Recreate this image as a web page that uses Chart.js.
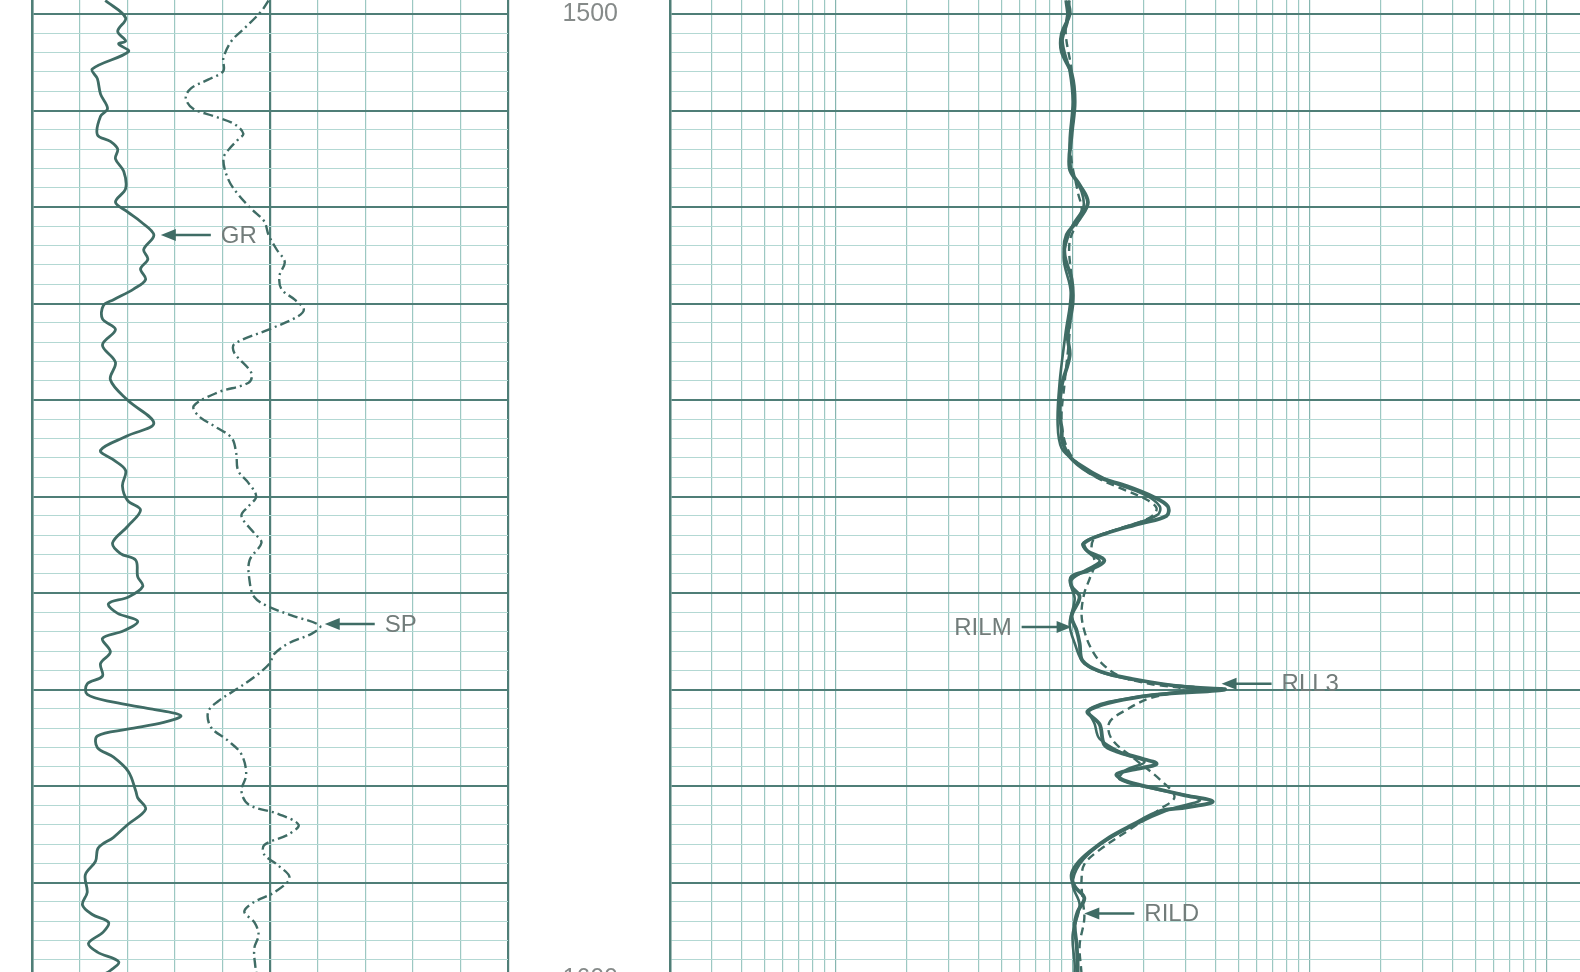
<!DOCTYPE html>
<html>
<head>
<meta charset="utf-8">
<script src="https://cdn.jsdelivr.net/npm/chart.js@4.4.1/dist/chart.umd.min.js"></script>
<style>
  html, body { margin: 0; padding: 0; background: #fff; overflow: hidden; width: 1580px; height: 972px; }
  #log { position: relative; width: 1580px; height: 972px; overflow: hidden; }
  #log canvas { position: absolute; top: 0; }
  #leftTrack { left: 0; }
  #rightTrack { left: 505px; }
</style>
</head>
<body>
<div id="log">
  <canvas id="leftTrack" width="520" height="990"></canvas>
  <canvas id="rightTrack" width="1115" height="990"></canvas>
</div>
<script>
// Well log, 1500 - 1600 m. Left track: GR (API) + SP (mV), right track: resistivities (ohm.m, log)

const depthTop = 1498.55;
const depthBottom = 1600.5;

// GR curve
const grDepth = [1498.6, 1500.4, 1501.8, 1502.8, 1503.1, 1503.9, 1505.7, 1506.7, 1508.3, 1509.8,
  1510.6, 1512.5, 1513.2, 1514.0, 1515.0, 1516.3, 1518.1, 1519.5, 1520.5, 1521.5,
  1522.9, 1524.4, 1525.4, 1526.4, 1527.5, 1528.5, 1529.6, 1530.2, 1531.6, 1532.7,
  1534.3, 1536.1, 1537.9, 1540.0, 1542.4, 1543.7, 1545.2, 1546.2, 1547.3, 1548.9,
  1550.4, 1551.4, 1553.1, 1554.8, 1555.9, 1556.6, 1558.3, 1559.3, 1560.4, 1561.1,
  1562.1, 1562.9, 1563.9, 1564.7, 1566.1, 1567.3, 1568.6, 1569.4, 1570.5, 1571.3,
  1572.0, 1572.7, 1573.4, 1574.1, 1574.8, 1576.0, 1577.0, 1578.5, 1580.5, 1581.2,
  1582.4, 1584.0, 1585.3, 1586.4, 1587.8, 1589.2, 1591.0, 1592.3, 1593.3, 1594.1,
  1595.1, 1596.3, 1597.2, 1598.2, 1599.1, 1599.8, 1601.0];
const grApi = [23.1, 29.5, 27.0, 29.5, 27.3, 30.4, 19.0, 20.6, 21.6, 23.8,
  21.6, 20.6, 24.7, 27.0, 26.3, 28.9, 29.5, 26.3, 30.1, 34.2,
  38.4, 35.2, 36.5, 34.2, 35.8, 32.0, 25.7, 22.5, 22.2, 26.3,
  22.2, 26.3, 24.7, 30.1, 38.4, 30.1, 21.6, 25.7, 29.5, 28.5,
  30.1, 34.2, 30.1, 25.4, 27.9, 32.7, 33.3, 34.9, 30.4, 24.1,
  27.0, 33.3, 28.9, 22.2, 24.7, 21.6, 22.2, 17.4, 17.4, 25.7,
  37.4, 46.9, 41.5, 30.1, 20.6, 20.6, 25.7, 30.4, 32.7, 33.3,
  35.8, 30.1, 25.7, 20.9, 20.0, 16.8, 17.4, 15.9, 19.0, 24.1,
  22.5, 17.8, 20.6, 27.3, 24.7, 21.6, 20.0];

// SP curve
const spDepth = [1498.6, 1499.7, 1501.5, 1502.8, 1504.6, 1505.9, 1506.8, 1507.7, 1508.7, 1509.8,
  1510.6, 1511.4, 1512.4, 1513.0, 1514.0, 1515.0, 1517.1, 1518.7, 1520.2, 1521.5,
  1522.9, 1524.4, 1525.7, 1527.1, 1528.5, 1529.6, 1530.6, 1531.4, 1532.7, 1534.2,
  1535.1, 1537.2, 1538.2, 1539.2, 1540.6, 1541.6, 1542.7, 1543.9, 1545.5, 1547.3,
  1548.6, 1550.0, 1551.0, 1552.0, 1553.8, 1554.8, 1556.6, 1558.7, 1560.4, 1561.4,
  1562.3, 1563.4, 1564.2, 1565.2, 1566.3, 1567.3, 1568.7, 1570.1, 1571.2, 1572.3,
  1573.9, 1575.3, 1576.7, 1578.8, 1580.5, 1581.9, 1582.9, 1584.0, 1585.0, 1586.1,
  1587.1, 1588.1, 1589.5, 1591.0, 1592.0, 1593.0, 1594.1, 1595.4, 1596.8, 1598.6,
  1599.8, 1601.0];
const spMv = [-30.3, -31.8, -35.4, -38.1, -39.8, -39.8, -43.0, -46.6, -47.7, -46.2,
  -41.7, -37.5, -35.6, -36.7, -38.6, -39.8, -38.8, -36.7, -33.9, -31.2,
  -30.3, -28.6, -26.9, -28.0, -27.6, -24.8, -22.9, -24.4, -30.3, -37.5,
  -37.5, -33.9, -34.5, -40.9, -46.0, -45.1, -41.7, -38.1, -37.1, -36.7,
  -34.5, -32.9, -34.5, -36.0, -33.3, -31.8, -34.3, -34.3, -33.3, -30.3,
  -25.5, -19.5, -21.2, -26.1, -29.1, -30.1, -33.3, -37.5, -40.9, -43.0,
  -42.4, -38.8, -36.0, -35.0, -36.0, -34.5, -28.2, -24.0, -26.1, -31.2,
  -31.2, -28.6, -25.9, -29.1, -33.3, -35.4, -33.3, -32.4, -33.3, -33.1,
  -32.7, -32.4];

// RLL3 (shallow laterolog)
const rll3Depth = [1498.6, 1500.0, 1502.1, 1503.9, 1506.2, 1509.1, 1512.5, 1516.0, 1517.7, 1519.5,
  1521.2, 1522.9, 1525.0, 1527.5, 1529.9, 1533.3, 1535.4, 1538.5, 1541.0, 1543.1,
  1544.4, 1546.2, 1547.9, 1548.9, 1550.0, 1551.0, 1552.0, 1552.8, 1553.8, 1554.8,
  1555.6, 1556.6, 1557.6, 1558.3, 1559.3, 1560.4, 1562.4, 1563.9, 1565.2, 1567.0,
  1568.1, 1568.9, 1569.7, 1570.0, 1570.7, 1572.2, 1573.6, 1575.7, 1576.4, 1577.0,
  1577.7, 1578.3, 1578.8, 1579.5, 1580.1, 1580.9, 1581.6, 1582.2, 1582.6, 1584.0,
  1585.3, 1586.8, 1588.1, 1589.2, 1590.4, 1591.6, 1593.0, 1594.4, 1596.5, 1599.3,
  1601.0];
const rll3Ohm = [9.53, 9.71, 8.99, 8.99, 9.90, 10.2, 9.90, 9.71, 10.7, 11.6,
  10.7, 9.43, 9.25, 9.90, 10.0, 9.53, 9.71, 8.99, 8.81, 8.99,
  9.07, 10.0, 12.6, 16.9, 21.8, 25.2, 24.9, 19.2, 13.9, 11.2,
  11.5, 13.6, 11.8, 9.90, 9.90, 10.7, 9.90, 10.4, 10.7, 11.0,
  13.0, 17.9, 29.1, 43.8, 19.7, 11.6, 13.0, 13.6, 15.3, 18.6,
  22.6, 17.9, 15.3, 16.9, 21.1, 29.1, 39.0, 30.3, 23.3, 17.9,
  14.3, 11.8, 10.4, 9.90, 10.2, 11.2, 10.5, 10.2, 10.4, 10.5,
  10.3];

// RILM (medium induction)
const rilmDepth = [1498.6, 1500.7, 1502.8, 1505.9, 1509.1, 1513.2, 1516.3, 1518.4, 1520.0, 1522.1,
  1525.2, 1528.8, 1533.0, 1538.2, 1542.4, 1545.0, 1546.5, 1548.4, 1549.8, 1551.0,
  1551.9, 1553.0, 1554.0, 1554.9, 1555.9, 1556.7, 1557.7, 1558.8, 1560.6, 1563.2,
  1565.2, 1567.3, 1568.6, 1569.4, 1569.9, 1570.8, 1572.0, 1573.6, 1575.1, 1576.7,
  1577.5, 1578.4, 1579.3, 1580.3, 1581.4, 1582.4, 1584.0, 1586.1, 1588.1, 1590.2,
  1592.3, 1595.4, 1598.6, 1601.0];
const rilmOhm = [9.34, 9.53, 9.07, 9.71, 10.0, 9.71, 9.90, 10.9, 11.1, 9.90,
  9.16, 9.81, 9.34, 8.81, 8.64, 8.99, 10.5, 14.3, 20.1, 23.3,
  22.8, 17.4, 13.0, 11.0, 11.8, 13.0, 11.2, 9.81, 10.2, 9.71,
  10.2, 11.2, 15.0, 23.3, 34.4, 18.3, 11.8, 12.4, 13.0, 16.6,
  20.1, 16.6, 15.8, 22.2, 34.4, 25.7, 18.3, 13.0, 10.7, 10.0,
  10.7, 10.0, 10.2, 10.1];

// RILD (deep induction)
const rildDepth = [1498.6, 1501.8, 1505.9, 1510.1, 1514.3, 1518.4, 1520.5, 1523.6, 1527.8, 1533.0,
  1538.2, 1542.4, 1545.5, 1547.6, 1549.1, 1550.2, 1551.2, 1552.2, 1553.3, 1554.3,
  1555.4, 1556.9, 1558.5, 1560.0, 1562.1, 1563.9, 1565.8, 1567.3, 1568.6, 1569.4,
  1570.0, 1570.9, 1572.0, 1573.4, 1575.1, 1577.2, 1579.3, 1581.1, 1582.4, 1584.5,
  1586.6, 1588.1, 1589.7, 1591.6, 1593.7, 1596.5, 1599.6, 1601.0];
const rildOhm = [9.71, 9.34, 9.90, 10.1, 9.81, 10.5, 10.9, 9.71, 9.90, 9.71,
  9.25, 8.99, 9.71, 11.8, 15.8, 20.1, 22.6, 21.1, 15.8, 12.4,
  12.0, 12.4, 11.8, 11.2, 10.9, 11.2, 12.0, 13.3, 15.8, 21.1,
  29.7, 21.1, 17.1, 14.3, 14.6, 18.3, 23.3, 26.9, 23.3, 17.4,
  13.0, 11.2, 10.9, 11.0, 11.2, 10.7, 10.9, 10.8];

// curve name tags with arrows
const leftTags = [
  { text: 'GR', axis: 'x', value: 40.6, depth: 1522.9, side: 'right' },
  { text: 'SP', axis: 'xsp', value: -18.5, depth: 1563.2, side: 'right' }
];
const rightTags = [
  { text: 'RILM', axis: 'x', value: 9.9, depth: 1563.5, side: 'left' },
  { text: 'RLL3', axis: 'x', value: 42.5, depth: 1569.4, side: 'right' },
  { text: 'RILD', axis: 'x', value: 11.2, depth: 1593.2, side: 'right' }
];

const curveColor = '#3f6c65';
const labelColor = '#727c7a';
const majorGrid = '#4f7e77';
const minorGrid = '#b3d8d3';
const vertGrid = '#9cc8c2';

// depth grid every 2 m, heavy every 10 m
const gridDepths = [];
for (let d = 1500; d <= 1600; d += 2) gridDepths.push(d);

// log grid 0.2 .. 2000
const logTicks = [];
for (let dec = 0.1; dec < 2000; dec *= 10) {
  for (let k = 1; k <= 9; k++) {
    const v = +(k * dec).toPrecision(3);
    if (v >= 0.2 && v <= 2000) logTicks.push(v);
  }
}
logTicks.push(2000);

function pts(ys, xs) {
  return ys.map((d, i) => ({ x: xs[i], y: d }));
}

const arrowTags = {
  id: 'arrowTags',
  afterDatasetsDraw(chart, args, opts) {
    const c = chart.ctx;
    c.save();
    (opts.items || []).forEach(t => {
      const x = chart.scales[t.axis].getPixelForValue(t.value);
      const y = chart.scales.y.getPixelForValue(t.depth);
      const dir = t.side === 'left' ? -1 : 1;
      const tail = x + dir * 50;
      c.strokeStyle = curveColor;
      c.fillStyle = curveColor;
      c.lineWidth = 2.5;
      c.beginPath();
      c.moveTo(x + dir * 10, y);
      c.lineTo(tail, y);
      c.stroke();
      c.beginPath();
      c.moveTo(x, y);
      c.lineTo(x + dir * 15, y - 6);
      c.lineTo(x + dir * 15, y + 6);
      c.closePath();
      c.fill();
      c.fillStyle = labelColor;
      c.font = '24px "Liberation Sans", Arial, sans-serif';
      c.textBaseline = 'middle';
      c.textAlign = dir > 0 ? 'left' : 'right';
      c.fillText(t.text, tail + dir * 10, y + 1);
    });
    c.restore();
  }
};

function depthAxis(extra) {
  return Object.assign({
    type: 'linear',
    reverse: true,
    min: depthTop,
    max: depthBottom,
    afterBuildTicks: axis => { axis.ticks = gridDepths.map(v => ({ value: v })); },
    grid: {
      drawTicks: false,
      color: ctx => (ctx.tick && ctx.tick.value % 10 === 0) ? majorGrid : minorGrid,
      lineWidth: ctx => (ctx.tick && ctx.tick.value % 10 === 0) ? 2 : 1
    },
    border: { display: true, color: majorGrid, width: 2.5 }
  }, extra);
}

const lineStyle = { showLine: true, pointRadius: 0, borderColor: curveColor, tension: 0.35, fill: false };

// left track
new Chart(document.getElementById('leftTrack'), {
  type: 'scatter',
  data: {
    datasets: [
      Object.assign({ label: 'GR', data: pts(grDepth, grApi), xAxisID: 'x', borderWidth: 2.8 }, lineStyle),
      Object.assign({ label: 'SP', data: pts(spDepth, spMv), xAxisID: 'xsp', borderWidth: 2.4, borderDash: [10, 4, 2, 4] }, lineStyle)
    ]
  },
  options: {
    responsive: false,
    animation: false,
    devicePixelRatio: 1,
    layout: { padding: { left: 32, right: 12, top: 0, bottom: 6 } },
    plugins: { legend: { display: false }, tooltip: { enabled: false }, arrowTags: { items: leftTags } },
    scales: {
      x: {
        type: 'linear', min: 0, max: 150,
        ticks: { display: false, stepSize: 15, autoSkip: false },
        grid: {
          drawTicks: false,
          color: ctx => (ctx.tick && ctx.tick.value % 75 === 0) ? majorGrid : vertGrid,
          lineWidth: ctx => (ctx.tick && ctx.tick.value % 75 === 0) ? 2.2 : 1.2
        },
        border: { display: false },
        afterFit: s => { s.height = 0; }
      },
      xsp: { type: 'linear', min: -80, max: 20, display: false },
      y: depthAxis({
        ticks: { display: false, autoSkip: false },
        afterFit: s => { s.width = 0; }
      })
    }
  },
  plugins: [arrowTags]
});

// right track
new Chart(document.getElementById('rightTrack'), {
  type: 'scatter',
  data: {
    datasets: [
      Object.assign({ label: 'RILD', data: pts(rildDepth, rildOhm), borderWidth: 2.4, borderDash: [8, 5] }, lineStyle),
      Object.assign({ label: 'RILM', data: pts(rilmDepth, rilmOhm), borderWidth: 2.6 }, lineStyle),
      Object.assign({ label: 'RLL3', data: pts(rll3Depth, rll3Ohm), borderWidth: 3.8 }, lineStyle)
    ]
  },
  options: {
    responsive: false,
    animation: false,
    devicePixelRatio: 1,
    layout: { padding: { left: 0, right: 2, top: 0, bottom: 6 } },
    plugins: { legend: { display: false }, tooltip: { enabled: false }, arrowTags: { items: rightTags } },
    scales: {
      x: {
        type: 'logarithmic', min: 0.2, max: 2000,
        afterBuildTicks: axis => { axis.ticks = logTicks.map(v => ({ value: v })); },
        ticks: { display: false, autoSkip: false },
        grid: {
          drawTicks: false,
          color: ctx => {
            const v = ctx.tick && ctx.tick.value;
            return v && Math.abs(Math.log10(v) - Math.round(Math.log10(v))) < 1e-6 ? '#86b6b0' : vertGrid;
          },
          lineWidth: 1.2
        },
        border: { display: false },
        afterFit: s => { s.height = 0; }
      },
      y: depthAxis({
        ticks: {
          autoSkip: false,
          padding: 52,
          crossAlign: 'near',
          color: '#858a89',
          font: { family: '"Liberation Sans", Arial, sans-serif', size: 25 },
          callback: v => (v % 100 === 0 ? String(v) : '')
        },
        afterFit: s => { s.width = 165; s.paddingTop = 0; s.paddingBottom = 0; }
      })
    }
  },
  plugins: [arrowTags]
});
</script>
</body>
</html>
